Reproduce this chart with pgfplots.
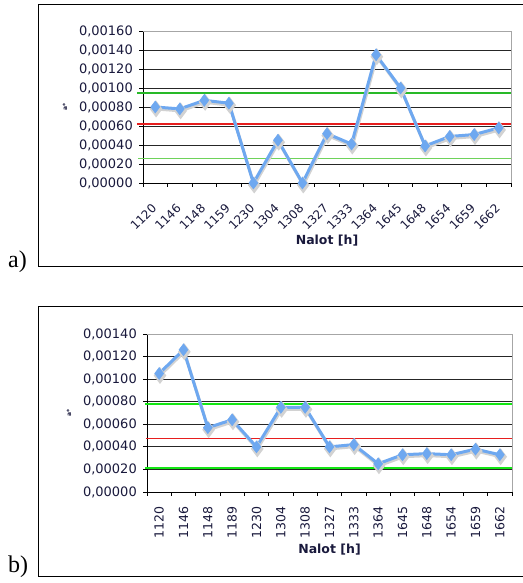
\documentclass[border=0pt]{standalone}
\usepackage{fontspec}
\setmainfont{DejaVu Sans}
\newfontfamily\seriffont{Liberation Serif}
\usepackage{pgfplots}
\pgfplotsset{compat=1.18}

\definecolor{lb}{RGB}{110,168,240}
\definecolor{gA}{RGB}{40,185,40}
\definecolor{gA2}{RGB}{110,210,90}
\definecolor{rd}{RGB}{230,30,30}
\definecolor{gB}{RGB}{20,230,20}
\definecolor{tk}{RGB}{25,25,60}

\pgfplotsset{
  base/.style={
    scale only axis,
    clip=false,
    xmin=-0.5, xmax=14.5,
    ymin=0,
    xtick={0,...,14},
    every major x tick/.style={draw=none},
    minor xtick={-0.5,0.5,...,14.5},
    axis lines*=left,
    axis line style={black, line width=0.9pt},
    tick align=outside,
    major tick length=4pt, minor tick length=4pt,
    tick style={black, line width=0.9pt},
    ymajorgrids, grid style={black!85, line width=0.8pt},
    scaled y ticks=false,
    /pgf/number format/fixed,
    /pgf/number format/fixed zerofill,
    /pgf/number format/precision=5,
    /pgf/number format/use comma,
    /pgf/number format/assume math mode=true,
    ticklabel style={font=\fontsize{12.5}{14}\selectfont, text=tk},
    yticklabel style={font=\fontsize{13}{15}\selectfont, inner sep=0pt, xshift=-6pt},
    xlabel={\bfseries Nalot [h]},
    every axis x label/.style={at={(rel axis cs:0.5,0)}, yshift=-58pt, anchor=center, font=\fontsize{12.5}{14}\selectfont, text=tk},
    ylabel={\bfseries a*},
    every axis y label/.style={at={(rel axis cs:0,0.5)}, xshift=-78pt, rotate=90, anchor=center, font=\fontsize{6}{6}\selectfont, text=tk},
  },
  ser/.style={lb, line width=3pt, mark=diamond*, mark size=6pt, mark options={solid, fill=lb, draw=lb, line width=0.5pt}},
  shad/.style={gray!35, line width=3pt, mark=diamond*, mark size=6pt, mark options={fill=gray!35, draw=gray!35}, yshift=-2pt, xshift=0.8pt, forget plot},
}

\begin{document}
\begin{tikzpicture}
\useasboundingbox (0pt,0pt) rectangle (522pt,583pt);
% outer frames
\draw[black, line width=1pt] (38pt,316pt) rectangle (530pt,578pt);
\draw[black, line width=1pt] (38pt,6pt) rectangle (530pt,276pt);
\node[anchor=base west, font=\seriffont\fontsize{24}{24}\selectfont, inner sep=0pt] at (8pt,315pt) {a)};
\node[anchor=base west, font=\seriffont\fontsize{24}{24}\selectfont, inner sep=0pt] at (8pt,10pt) {b)};

% ---------- chart a ----------
\begin{axis}[base,
  at={(143pt,400pt)}, anchor=south west,
  width=368pt, height=152pt,
  ymax=0.0016,
  ytick={0,0.0002,0.0004,0.0006,0.0008,0.0010,0.0012,0.0014,0.0016},
  xticklabels={1120,1146,1148,1159,1230,1304,1308,1327,1333,1364,1645,1648,1654,1659,1662},
  xticklabel style={font=\fontsize{12}{13}\selectfont, inner sep=0pt, xshift=-1pt, yshift=-19pt, rotate=45, anchor=east},
]
\addplot[gA, line width=2pt] coordinates {(-0.75,0.00095) (14.5,0.00095)};
\addplot[rd, line width=2pt] coordinates {(-0.75,0.000625) (14.5,0.000625)};
\addplot[gA2, line width=1.2pt] coordinates {(-0.7,0.000256) (14.5,0.000256)};
\addplot[shad] coordinates {(0,0.00080) (1,0.00078) (2,0.00087) (3,0.00084) (4,0) (5,0.00045) (6,0) (7,0.00052) (8,0.00041) (9,0.00135) (10,0.00100) (11,0.00039) (12,0.00049) (13,0.00051) (14,0.00058)};
\addplot[ser] coordinates {(0,0.00080) (1,0.00078) (2,0.00087) (3,0.00084) (4,0) (5,0.00045) (6,0) (7,0.00052) (8,0.00041) (9,0.00135) (10,0.00100) (11,0.00039) (12,0.00049) (13,0.00051) (14,0.00058)};
\draw[gray!70, line width=0.9pt] (rel axis cs:0,1) -- (rel axis cs:1,1) -- (rel axis cs:1,0);
\end{axis}

% ---------- chart b ----------
\begin{axis}[base,
  at={(147pt,91pt)}, anchor=south west,
  width=365pt, height=158pt,
  ymax=0.0014,
  ytick={0,0.0002,0.0004,0.0006,0.0008,0.0010,0.0012,0.0014},
  xticklabels={1120,1146,1148,1189,1230,1304,1308,1327,1333,1364,1645,1648,1654,1659,1662},
  xticklabel style={inner sep=0pt, yshift=-10pt, rotate=90, anchor=east},
]
\addplot[gB, line width=2pt] coordinates {(-0.58,0.00078) (14.5,0.00078)};
\addplot[rd, line width=1.6pt] coordinates {(-0.55,0.000473) (14.5,0.000473)};
\addplot[gB, line width=2pt] coordinates {(-0.58,0.000216) (14.5,0.000216)};
\addplot[shad] coordinates {(0,0.00105) (1,0.00126) (2,0.00057) (3,0.00064) (4,0.00040) (5,0.00075) (6,0.00075) (7,0.00040) (8,0.00042) (9,0.00025) (10,0.00033) (11,0.00034) (12,0.00033) (13,0.00038) (14,0.00033)};
\addplot[ser] coordinates {(0,0.00105) (1,0.00126) (2,0.00057) (3,0.00064) (4,0.00040) (5,0.00075) (6,0.00075) (7,0.00040) (8,0.00042) (9,0.00025) (10,0.00033) (11,0.00034) (12,0.00033) (13,0.00038) (14,0.00033)};
\draw[gray!70, line width=0.9pt] (rel axis cs:0,1) -- (rel axis cs:1,1) -- (rel axis cs:1,0);
\end{axis}
\end{tikzpicture}
\end{document}
